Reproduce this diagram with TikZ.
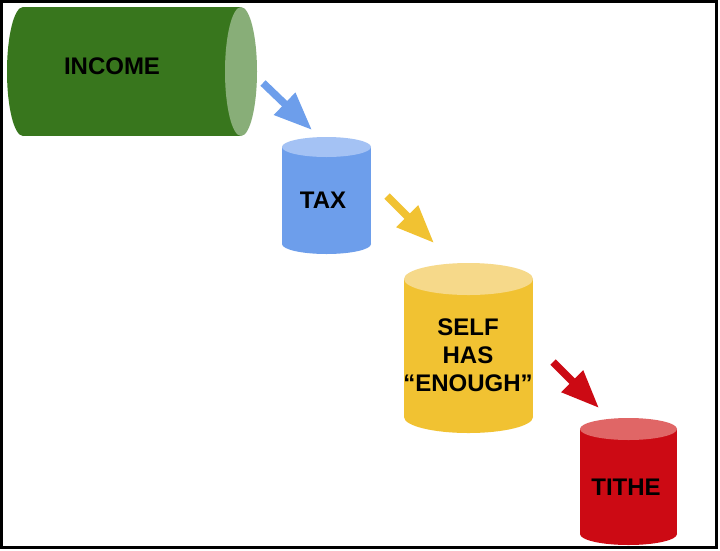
\documentclass[tikz,border=0pt]{standalone}
\usepackage{fontspec}
\setmainfont{Liberation Sans}
\usetikzlibrary{arrows.meta}
\definecolor{gbody}{HTML}{38761D}
\definecolor{gend}{HTML}{88AE78}
\definecolor{bbody}{HTML}{6D9EEB}
\definecolor{btop}{HTML}{A4C2F4}
\definecolor{ybody}{HTML}{F1C232}
\definecolor{ytop}{HTML}{F6D98A}
\definecolor{rbody}{HTML}{CC0A14}
\definecolor{rtop}{HTML}{E06666}
\tikzset{
  lbl/.style={font=\bfseries\fontsize{24}{28}\selectfont, text=black, align=center, inner sep=0pt},
  flow/.style={line width=7.5pt, -{Triangle[length=38pt,width=29pt]}},
}
\begin{document}
\begin{tikzpicture}[x=1pt,y=-1pt]
\useasboundingbox (0,0) rectangle (720,550);
\fill[white] (0,0) rectangle (720,550);
% INCOME (horizontal cylinder)
\fill[gbody] (23,71.5) ellipse [x radius=16pt, y radius=64.5pt];
\fill[gbody] (23,7) rectangle (241,136);
\fill[gend] (241,71.5) ellipse [x radius=16pt, y radius=64.5pt];
\node[lbl] (income) at (112,66) {INCOME};
% TAX
\fill[bbody] (326.5,244) ellipse [x radius=44.5pt, y radius=10pt];
\fill[bbody] (282,147) rectangle (371,244);
\fill[btop] (326.5,147) ellipse [x radius=44.5pt, y radius=10pt];
\node[lbl] (tax) at (323,200) {TAX};
% SELF HAS ENOUGH
\fill[ybody] (468.5,417) ellipse [x radius=64.5pt, y radius=16pt];
\fill[ybody] (404,279) rectangle (533,417);
\fill[ytop] (468.5,279) ellipse [x radius=64.5pt, y radius=16pt];
\node[lbl] (self) at (468,355) {SELF\\HAS\\“ENOUGH”};
% TITHE
\fill[rbody] (628.5,534) ellipse [x radius=48.5pt, y radius=11pt];
\fill[rbody] (580,429) rectangle (677,534);
\fill[rtop] (628.5,429) ellipse [x radius=48.5pt, y radius=11pt];
\node[lbl] (tithe) at (626,487) {TITHE};
% arrows
\coordinate (a1s) at (263,83);
\coordinate (a1e) at (312,130);
\coordinate (a2s) at (387,196);
\coordinate (a2e) at (434,243);
\coordinate (a3s) at (553,362);
\coordinate (a3e) at (599,408);
\draw[flow, bbody] (a1s) -- (a1e);
\draw[flow, ybody] (a2s) -- (a2e);
\draw[flow, rbody] (a3s) -- (a3e);
% frame
\draw[line width=2.5pt, black] (1.25,1.25) rectangle (716.5,547.5);
\end{tikzpicture}
\end{document}
